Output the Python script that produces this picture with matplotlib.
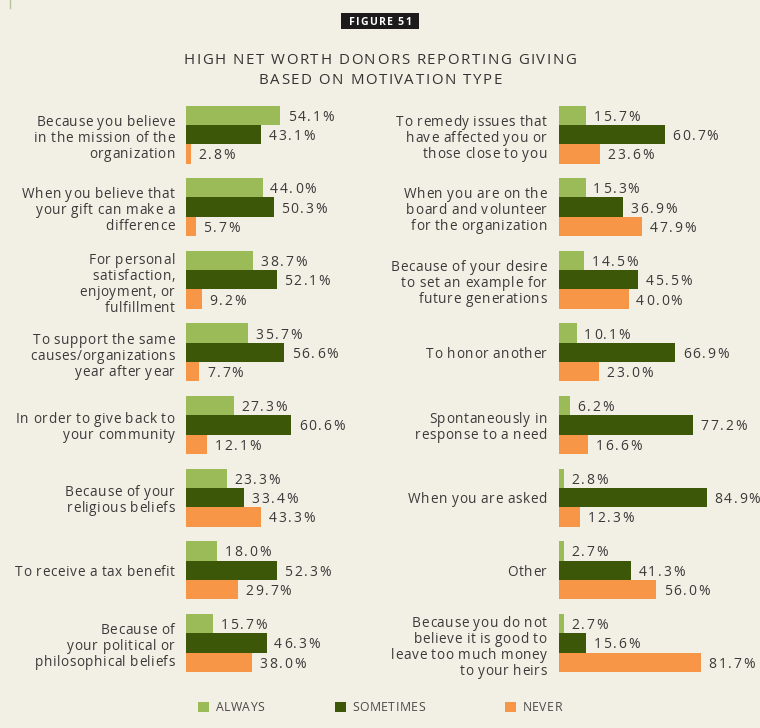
import matplotlib
matplotlib.use("Agg")
import matplotlib.pyplot as plt
from matplotlib.patches import Rectangle
from matplotlib.lines import Line2D
from matplotlib.transforms import IdentityTransform
from matplotlib.font_manager import findfont, FontProperties
from matplotlib.ft2font import FT2Font
try:
    from matplotlib.ft2font import LoadFlags
    NOHINT = LoadFlags.NO_HINTING
except ImportError:  # older matplotlib
    from matplotlib.ft2font import LOAD_NO_HINTING as NOHINT

# ---------------- data ----------------
left_categories = [
    "Because you believe\nin the mission of the\norganization",
    "When you believe that\nyour gift can make a\ndifference",
    "For personal\nsatisfaction,\nenjoyment, or\nfulfillment",
    "To support the same\ncauses/organizations\nyear after year",
    "In order to give back to\nyour community",
    "Because of your\nreligious beliefs",
    "To receive a tax benefit",
    "Because of\nyour political or\nphilosophical beliefs",
]
left_always = [54.1, 44.0, 38.7, 35.7, 27.3, 23.3, 18.0, 15.7]
left_sometimes = [43.1, 50.3, 52.1, 56.6, 60.6, 33.4, 52.3, 46.3]
left_never = [2.8, 5.7, 9.2, 7.7, 12.1, 43.3, 29.7, 38.0]

right_categories = [
    "To remedy issues that\nhave affected you or\nthose close to you",
    "When you are on the\nboard and volunteer\nfor the organization",
    "Because of your desire\nto set an example for\nfuture generations",
    "To honor another",
    "Spontaneously in\nresponse to a need",
    "When you are asked",
    "Other",
    "Because you do not\nbelieve it is good to\nleave too much money\nto your heirs",
]
right_always = [15.7, 15.3, 14.5, 10.1, 6.2, 2.8, 2.7, 2.7]
right_sometimes = [60.7, 36.9, 45.5, 66.9, 77.2, 84.9, 41.3, 15.6]
right_never = [23.6, 47.9, 40.0, 23.0, 16.6, 12.3, 56.0, 81.7]

series_names = ["ALWAYS", "SOMETIMES", "NEVER"]
title_lines = ["HIGH NET WORTH DONORS REPORTING GIVING", "BASED ON MOTIVATION TYPE"]
figure_tag = "FIGURE 51"

# ---------------- style ----------------
BG = "#f2efe4"
COLORS = ["#9bbb59", "#3b5707", "#f79646"]
TXT = "#3a3a3a"
FAMILY = "Open Sans"
plt.rcParams["font.family"] = [FAMILY, "DejaVu Sans"]

W, H = 760, 728
DPI = 100
fig = plt.figure(figsize=(W / DPI, H / DPI), dpi=DPI, facecolor=BG)
IDT = IdentityTransform()

_font_cache = {}


def advances(s, size, weight):
    key = (weight, size)
    if key not in _font_cache:
        path = findfont(FontProperties(family=FAMILY, weight=weight))
        f = FT2Font(path, hinting_factor=1)
        f.set_size(size, DPI)
        _font_cache[key] = f
    f = _font_cache[key]
    return [f.load_char(ord(c), flags=NOHINT).linearHoriAdvance / 65536 for c in s]


def spaced(x_px, base_px, s, size, track, ha="left", color=TXT, weight="normal"):
    """Draw a letter-spaced line; x_px/base_px in pixels from top-left."""
    adv = advances(s, size, weight)
    total = sum(adv) + track * (len(s) - 1)
    if ha == "right":
        x = x_px - total
    elif ha == "center":
        x = x_px - total / 2
    else:
        x = x_px
    for ch, a in zip(s, adv):
        if ch != " ":
            fig.text(x, H - base_px, ch, transform=IDT, ha="left", va="baseline",
                     fontsize=size, color=color, fontweight=weight)
        x += a + track


px_per_unit = 1.74
ax_w_px = 100 * px_per_unit
top_px, bot_px = 98.2, 679.3
ax_bottom = (H - bot_px) / H
ax_height = (bot_px - top_px) / H

bar_h = 0.266
offsets = [-bar_h, 0.0, bar_h]

LABEL_SIZE, LABEL_TRACK, LABEL_PITCH = 9.8, 0.38, 16.0
VAL_SIZE, VAL_TRACK = 10.0, 1.7


def draw_panel(left_px, cats, series, label_gap_px):
    ax = fig.add_axes([left_px / W, ax_bottom, ax_w_px / W, ax_height])
    ax.set_facecolor("none")
    ax.set_xlim(0, 100)
    ax.set_ylim(len(cats) - 0.5, -0.5)
    ax.axis("off")
    for s_idx, vals in enumerate(series):
        ys = [i + offsets[s_idx] for i in range(len(cats))]
        ax.barh(ys, vals, height=bar_h, color=COLORS[s_idx], linewidth=0)
        for y, v in zip(ys, vals):
            dx, dy = ax.transData.transform((v, y))
            spaced(dx + 7.5, (H - dy) + 5.4, f"{v:.1f}%", VAL_SIZE, VAL_TRACK)
    for i, c in enumerate(cats):
        dx, dy = ax.transData.transform((0, i))
        center = H - dy
        lines = c.split("\n")
        n = len(lines)
        shift = 4.4 + 0.9 * n
        for k, line in enumerate(lines):
            base = center + (k - (n - 1) / 2) * LABEL_PITCH + shift
            spaced(dx - label_gap_px, base, line, LABEL_SIZE, LABEL_TRACK, ha="right")
    return ax


draw_panel(186, left_categories, [left_always, left_sometimes, left_never], 11)
draw_panel(559, right_categories, [right_always, right_sometimes, right_never], 12)

# figure tag badge
fig.patches.append(Rectangle((341 / W, 1 - 29 / H), 78 / W, 15.5 / H,
                             transform=fig.transFigure, facecolor="#1c1a1a",
                             edgecolor="none"))
spaced(380, 25.3, figure_tag, 7.6, 1.0, ha="center", color="white", weight="bold")

# title
spaced(380, 64, title_lines[0], 10.8, 1.57, ha="center", color="#333333")
spaced(380, 84, title_lines[1], 10.8, 1.57, ha="center", color="#333333")

# thin top-left mark
fig.add_artist(Line2D([10 / W, 10 / W], [1, 1 - 8 / H], transform=fig.transFigure,
                      color="#b8c49a", linewidth=1))

# legend
leg_sq_x = [198, 335, 505]
for name, col, x in zip(series_names, COLORS, leg_sq_x):
    fig.patches.append(Rectangle((x / W, 1 - 711.8 / H), 11 / W, 9.6 / H,
                                 transform=fig.transFigure, facecolor=col,
                                 edgecolor="none"))
    spaced(x + 17.5, 711.0, name, 8.8, 0.6, color="#4a4a4a")

fig.savefig("out.png", dpi=DPI, facecolor=BG)
